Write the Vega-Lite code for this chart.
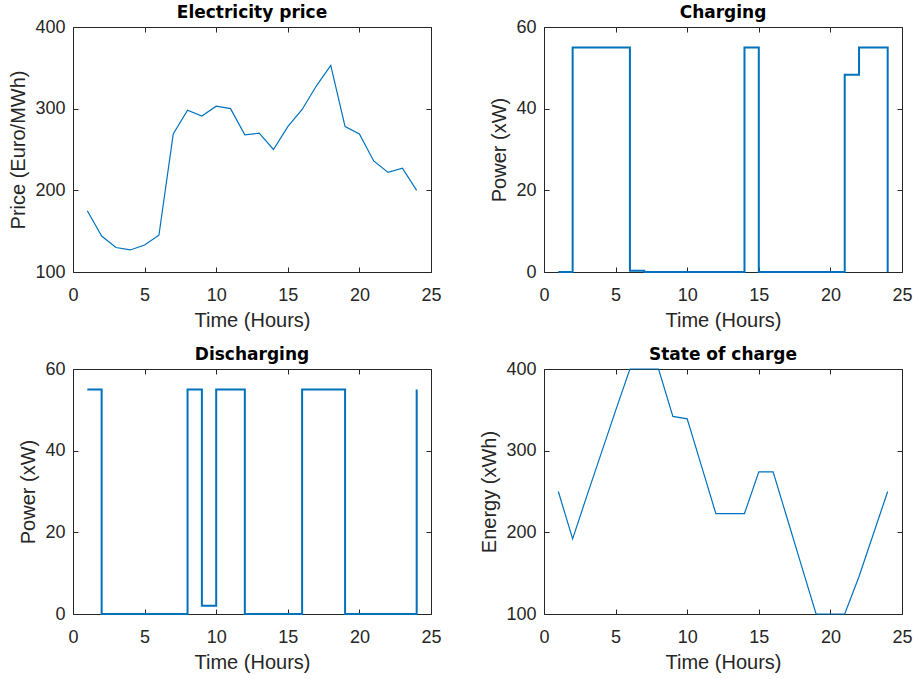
{
  "$schema": "https://vega.github.io/schema/vega-lite/v6.json",
  "padding": {"left": 8, "top": 3, "right": 0, "bottom": 0},
  "background": "white",
  "datasets": {
    "d": [
      {"t": 1, "price": 175, "charge": 0, "discharge": 55, "soc": 250},
      {"t": 2, "price": 144, "charge": 55, "discharge": 0, "soc": 192},
      {"t": 3, "price": 130, "charge": 55, "discharge": 0, "soc": 245},
      {"t": 4, "price": 127, "charge": 55, "discharge": 0, "soc": 297},
      {"t": 5, "price": 133, "charge": 55, "discharge": 0, "soc": 349},
      {"t": 6, "price": 145, "charge": 0.3, "discharge": 0, "soc": 400},
      {"t": 7, "price": 269, "charge": 0, "discharge": 0, "soc": 400},
      {"t": 8, "price": 298, "charge": 0, "discharge": 55, "soc": 400},
      {"t": 9, "price": 291, "charge": 0, "discharge": 2, "soc": 342},
      {"t": 10, "price": 303, "charge": 0, "discharge": 55, "soc": 339},
      {"t": 11, "price": 300, "charge": 0, "discharge": 55, "soc": 281},
      {"t": 12, "price": 268, "charge": 0, "discharge": 0, "soc": 223},
      {"t": 13, "price": 270, "charge": 0, "discharge": 0, "soc": 223},
      {"t": 14, "price": 250, "charge": 55, "discharge": 0, "soc": 223},
      {"t": 15, "price": 278, "charge": 0, "discharge": 0, "soc": 274},
      {"t": 16, "price": 299, "charge": 0, "discharge": 55, "soc": 274},
      {"t": 17, "price": 328, "charge": 0, "discharge": 55, "soc": 216},
      {"t": 18, "price": 353, "charge": 0, "discharge": 55, "soc": 158},
      {"t": 19, "price": 278, "charge": 0, "discharge": 0, "soc": 100},
      {"t": 20, "price": 269, "charge": 0, "discharge": 0, "soc": 100},
      {"t": 21, "price": 236, "charge": 48.3, "discharge": 0, "soc": 100},
      {"t": 22, "price": 222, "charge": 55, "discharge": 0, "soc": 146},
      {"t": 23, "price": 227, "charge": 55, "discharge": 0, "soc": 198},
      {"t": 24, "price": 200, "charge": 0, "discharge": 55, "soc": 250}
    ]
  },
  "config": {
    "font": "Liberation Sans",
    "view": {"stroke": "#262626", "strokeWidth": 1},
    "axis": {
      "domain": false,
      "grid": false,
      "tickColor": "#262626",
      "tickSize": -5,
      "tickWidth": 1,
      "labelColor": "#262626",
      "labelFont": "Liberation Sans",
      "labelFontSize": 18,
      "titleFont": "Liberation Sans",
      "titleFontSize": 20,
      "titleFontWeight": "normal",
      "titleColor": "#262626"
    },
    "axisX": {"labelPadding": 19, "titlePadding": 6, "labelFlush": false, "labelOverlap": false},
    "axisY": {"labelPadding": 13, "titlePadding": 6, "labelOverlap": false},
    "title": {"font": "DejaVu Sans", "fontSize": 17, "fontWeight": "bold", "color": "#000000", "offset": -4, "baseline": "alphabetic"}
  },
  "columns": 2,
  "spacing": {"row": 97, "column": 113},
  "bounds": "flush",
  "concat": [
    {
      "width": 358, "height": 245,
      "title": "Electricity price",
      "data": {"name": "d"},
      "layer": [
        {
          "mark": {"type": "line", "color": "#0072BD", "strokeWidth": 1.2},
          "encoding": {
            "x": {"field": "t", "type": "quantitative", "scale": {"domain": [0, 25], "nice": false}, "axis": {"title": "Time (Hours)", "values": [0, 5, 10, 15, 20, 25]}},
            "y": {"field": "price", "type": "quantitative", "scale": {"domain": [100, 400], "nice": false, "zero": false}, "axis": {"title": "Price (Euro/MWh)", "values": [100, 200, 300, 400]}}
          }
        },
        {
          "mark": {"type": "line", "strokeOpacity": 0},
          "encoding": {
            "x": {"field": "t", "type": "quantitative", "axis": {"orient": "top", "labels": false, "title": null, "values": [0, 5, 10, 15, 20, 25]}},
            "y": {"field": "price", "type": "quantitative", "axis": {"orient": "right", "labels": false, "title": null, "values": [100, 200, 300, 400]}}
          }
        }
      ],
      "resolve": {"axis": {"x": "independent", "y": "independent"}}
    },
    {
      "width": 358, "height": 245,
      "title": "Charging",
      "data": {"name": "d"},
      "layer": [
        {
          "mark": {"type": "line", "color": "#0072BD", "strokeWidth": 2, "interpolate": "step-after"},
          "encoding": {
            "x": {"field": "t", "type": "quantitative", "scale": {"domain": [0, 25], "nice": false}, "axis": {"title": "Time (Hours)", "values": [0, 5, 10, 15, 20, 25]}},
            "y": {"field": "charge", "type": "quantitative", "scale": {"domain": [0, 60], "nice": false}, "axis": {"title": "Power (xW)", "values": [0, 20, 40, 60]}}
          }
        },
        {
          "mark": {"type": "line", "strokeOpacity": 0},
          "encoding": {
            "x": {"field": "t", "type": "quantitative", "axis": {"orient": "top", "labels": false, "title": null, "values": [0, 5, 10, 15, 20, 25]}},
            "y": {"field": "charge", "type": "quantitative", "axis": {"orient": "right", "labels": false, "title": null, "values": [0, 20, 40, 60]}}
          }
        }
      ],
      "resolve": {"axis": {"x": "independent", "y": "independent"}}
    },
    {
      "width": 358, "height": 245,
      "title": "Discharging",
      "data": {"name": "d"},
      "layer": [
        {
          "mark": {"type": "line", "color": "#0072BD", "strokeWidth": 2, "interpolate": "step-after"},
          "encoding": {
            "x": {"field": "t", "type": "quantitative", "scale": {"domain": [0, 25], "nice": false}, "axis": {"title": "Time (Hours)", "values": [0, 5, 10, 15, 20, 25]}},
            "y": {"field": "discharge", "type": "quantitative", "scale": {"domain": [0, 60], "nice": false}, "axis": {"title": "Power (xW)", "values": [0, 20, 40, 60]}}
          }
        },
        {
          "mark": {"type": "line", "strokeOpacity": 0},
          "encoding": {
            "x": {"field": "t", "type": "quantitative", "axis": {"orient": "top", "labels": false, "title": null, "values": [0, 5, 10, 15, 20, 25]}},
            "y": {"field": "discharge", "type": "quantitative", "axis": {"orient": "right", "labels": false, "title": null, "values": [0, 20, 40, 60]}}
          }
        }
      ],
      "resolve": {"axis": {"x": "independent", "y": "independent"}}
    },
    {
      "width": 358, "height": 245,
      "title": "State of charge",
      "data": {"name": "d"},
      "layer": [
        {
          "mark": {"type": "line", "color": "#0072BD", "strokeWidth": 1.2},
          "encoding": {
            "x": {"field": "t", "type": "quantitative", "scale": {"domain": [0, 25], "nice": false}, "axis": {"title": "Time (Hours)", "values": [0, 5, 10, 15, 20, 25]}},
            "y": {"field": "soc", "type": "quantitative", "scale": {"domain": [100, 400], "nice": false, "zero": false}, "axis": {"title": "Energy (xWh)", "values": [100, 200, 300, 400]}}
          }
        },
        {
          "mark": {"type": "line", "strokeOpacity": 0},
          "encoding": {
            "x": {"field": "t", "type": "quantitative", "axis": {"orient": "top", "labels": false, "title": null, "values": [0, 5, 10, 15, 20, 25]}},
            "y": {"field": "soc", "type": "quantitative", "axis": {"orient": "right", "labels": false, "title": null, "values": [100, 200, 300, 400]}}
          }
        }
      ],
      "resolve": {"axis": {"x": "independent", "y": "independent"}}
    }
  ]
}
